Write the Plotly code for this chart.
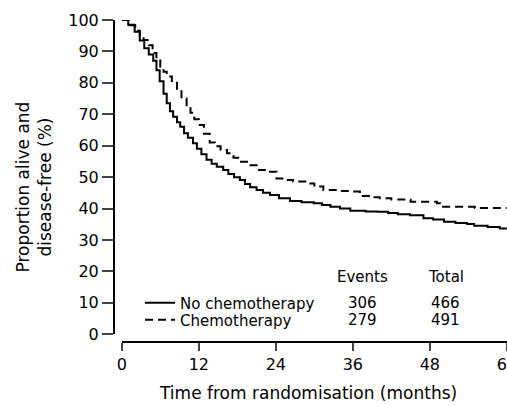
import plotly.graph_objects as go

# ---- data ----
months_no_chemo = [0, 1, 2, 2.8, 3.5, 4.2, 4.9, 5.4, 5.9, 6.5, 7.0, 7.5, 8.0, 8.6, 9.1, 9.7,
                   10.3, 11.1, 11.7, 12.4, 13.2, 14.0, 14.8, 15.8, 16.6, 17.5, 18.4, 19.2,
                   20.0, 21.0, 22.0, 23.1, 24.5, 26.2, 28.0, 29.9, 31.2, 32.5, 34.0, 35.6,
                   38.0, 39.8, 41.5, 43.0, 44.9, 47.0, 48.5, 50.2, 52.0, 53.8, 54.9, 57.0,
                   58.9, 60]
surv_no_chemo = [100, 98.5, 96.3, 93.5, 91, 89, 87, 84, 80.5, 76.5, 73.5, 71, 69.2, 67.5, 66,
                 64, 62.5, 60.8, 59, 57.3, 55.5, 54.3, 53.3, 52.3, 51, 50, 49.1, 47.8, 46.8,
                 45.9, 45, 44.3, 43.3, 42.4, 42, 41.7, 41.1, 40.6, 40, 39.3, 39.1, 39, 38.6,
                 38.2, 37.9, 36.9, 36.5, 35.8, 35.4, 35.1, 34.5, 34.1, 33.7, 33.7]

months_chemo = [0, 1.2, 2.1, 2.8, 3.4, 4.2, 4.8, 5.4, 6.0, 6.5, 7.0, 7.8, 8.6, 9.3, 10.1,
                10.7, 11.3, 12.0, 12.8, 13.7, 14.5, 15.4, 16.4, 17.4, 18.4, 19.5, 21.0, 22.6,
                24.1, 25.3, 26.7, 28.8, 30.0, 31.4, 33.5, 35.6, 37.1, 38.5, 40.2, 42.0, 45.0,
                49.1, 49.6, 55.0, 60]
surv_chemo = [100, 98.3, 96.6, 95, 93.6, 92, 89.5, 87.8, 85.1, 83.5, 82, 80, 77.7, 75, 72.4,
              70.5, 68.4, 66.6, 63.8, 61, 59.8, 58.6, 57.6, 56.2, 54.9, 53.8, 52.3, 51.7,
              49.6, 49.1, 48.6, 48, 47, 45.9, 45.6, 45.4, 44, 43.6, 43.3, 42.9, 42.2, 41.7,
              40.6, 40.2, 40.2]

group_names = ["No chemotherapy", "Chemotherapy"]
events = [306, 279]
totals = [466, 491]

x_ticks = [0, 12, 24, 36, 48, 60]
y_ticks = [0, 10, 20, 30, 40, 50, 60, 70, 80, 90, 100]

FONT = "DejaVu Sans"
W, H = 507, 406
ML, MR, MT, MB = 114, 0, 20, 64
PW, PH = W - ML - MR, H - MT - MB

def px_to_paper_x(px):
    return (px - ML) / PW

def px_to_paper_y(py):
    return (H - MB - py) / PH

row_y = [303, 320]

fig = go.Figure()
fig.add_trace(go.Scatter(x=months_no_chemo, y=surv_no_chemo, mode="lines",
                         line=dict(color="black", width=2, shape="hv"),
                         name=group_names[0], legend="legend"))
fig.add_trace(go.Scatter(x=months_chemo, y=surv_chemo, mode="lines",
                         line=dict(color="black", width=2, shape="hv", dash="8px,5px"),
                         name=group_names[1], legend="legend2"))

x_dom0 = px_to_paper_x(121.8)
y_dom0 = px_to_paper_y(334.3)

leg_common = dict(xanchor="left", yanchor="middle", bgcolor="rgba(0,0,0,0)",
                  borderwidth=0, font=dict(size=15))

fig.update_layout(
    width=W, height=H,
    margin=dict(l=ML, r=MR, t=MT, b=MB, autoexpand=False),
    paper_bgcolor="white", plot_bgcolor="white",
    font=dict(family=FONT, color="black", size=15),
    xaxis=dict(domain=[x_dom0, 1], range=[0, 60.02], anchor="free", position=0,
               tickvals=x_ticks, ticks="outside", ticklen=8, tickwidth=2,
               showline=True, linewidth=2, linecolor="black", showgrid=False,
               zeroline=False, tickfont=dict(size=16), automargin=False,
               ticklabeloverflow="allow"),
    yaxis=dict(domain=[y_dom0, 1], range=[0, 100], anchor="free", position=0,
               tickvals=y_ticks, ticks="outside", ticklen=11, tickwidth=2,
               showline=True, linewidth=2, linecolor="black", showgrid=False,
               zeroline=False, tickfont=dict(size=16), automargin=False),
    showlegend=True,
    legend=dict(x=px_to_paper_x(140), y=px_to_paper_y(row_y[0]), **leg_common),
    legend2=dict(x=px_to_paper_x(140), y=px_to_paper_y(row_y[1]), **leg_common),
)

ann = []
ann.append(dict(text="Proportion alive and<br>disease-free (%)", textangle=-90,
                x=px_to_paper_x(33), y=px_to_paper_y(187.5), xref="paper", yref="paper",
                xanchor="center", yanchor="middle", showarrow=False, font=dict(size=17)))
ann.append(dict(text="Time from randomisation (months)",
                x=px_to_paper_x(308), y=px_to_paper_y(393), xref="paper", yref="paper",
                xanchor="center", yanchor="middle", showarrow=False, font=dict(size=17)))
col_x = [px_to_paper_x(362.5), px_to_paper_x(445.5)]
ann.append(dict(text="Events", x=col_x[0], y=px_to_paper_y(277), xref="paper", yref="paper",
                xanchor="center", yanchor="middle", showarrow=False))
ann.append(dict(text="Total", x=col_x[1], y=px_to_paper_y(277), xref="paper", yref="paper",
                xanchor="center", yanchor="middle", showarrow=False))
for i in range(2):
    ann.append(dict(text=str(events[i]), x=col_x[0], y=px_to_paper_y(row_y[i]),
                    xref="paper", yref="paper", xanchor="center", yanchor="middle",
                    showarrow=False))
    ann.append(dict(text=str(totals[i]), x=col_x[1], y=px_to_paper_y(row_y[i]),
                    xref="paper", yref="paper", xanchor="center", yanchor="middle",
                    showarrow=False))
fig.update_layout(annotations=ann)

fig.write_html("out.html")
